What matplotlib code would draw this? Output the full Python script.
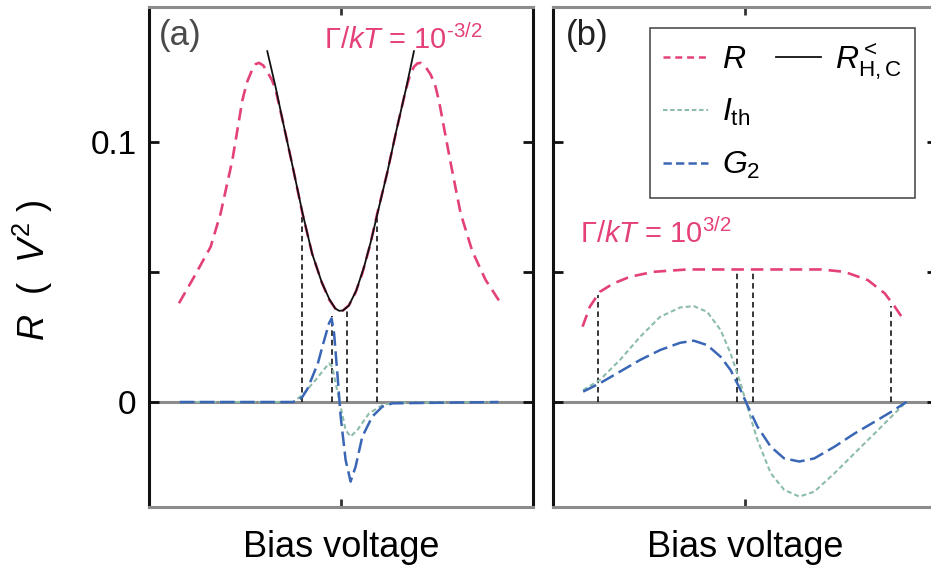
import matplotlib
matplotlib.use("Agg")
import matplotlib.pyplot as plt
from matplotlib.lines import Line2D

plt.rcParams['font.family'] = ['Liberation Sans', 'DejaVu Sans']
plt.rcParams['mathtext.fontset'] = 'custom'
plt.rcParams['mathtext.rm'] = 'Liberation Sans'
plt.rcParams['mathtext.it'] = 'Liberation Sans:italic'
plt.rcParams['mathtext.bf'] = 'Liberation Sans:bold'
plt.rcParams['lines.scale_dashes'] = False

# ---------------- data (bias voltage in arbitrary units, -1..1) ----------------
# Panel (a): Gamma/kT = 10^-3/2
a_R_x = [-0.844, -0.774, -0.679, -0.627, -0.566, -0.514, -0.49, -0.462, -0.445, -0.427, -0.405,
         -0.384, -0.36, -0.340, -0.30, -0.25, -0.201, -0.15, -0.10, -0.0625, -0.03, -0.0104,
         0.01, 0.042, 0.075, 0.111, 0.15, 0.189, 0.24, 0.29, 0.337, 0.36, 0.380, 0.398, 0.415,
         0.44, 0.467, 0.490, 0.510, 0.571, 0.623, 0.684, 0.753, 0.832]
a_R_y = [0.038, 0.047, 0.0597, 0.0726, 0.093, 0.116, 0.123, 0.128, 0.1300, 0.1305, 0.1295,
         0.127, 0.124, 0.120, 0.107, 0.090, 0.0726, 0.057, 0.046, 0.0395, 0.036, 0.0351,
         0.0352, 0.0373, 0.042, 0.0495, 0.060, 0.0726, 0.088, 0.105, 0.120, 0.126, 0.129, 0.1303, 0.1305,
         0.129, 0.126, 0.122, 0.116, 0.092, 0.0726, 0.058, 0.047, 0.038]

a_RHC_x = [-0.384, -0.34, -0.30, -0.25, -0.20, -0.15, -0.10, -0.06, -0.03, -0.01,
           0.01, 0.04, 0.08, 0.12, 0.16, 0.19, 0.24, 0.29, 0.34, 0.38]
a_RHC_y = [0.135, 0.121, 0.107, 0.090, 0.0726, 0.057, 0.046, 0.0395, 0.036, 0.0351,
           0.0352, 0.037, 0.043, 0.052, 0.063, 0.0726, 0.088, 0.105, 0.121, 0.135]

a_G2_x = [-0.84, -0.25, -0.225, -0.201, -0.175, -0.149, -0.12, -0.097, -0.0625, -0.049, -0.036,
          -0.019, -0.0017, 0.024, 0.050, 0.076, 0.111, 0.163, 0.215, 0.267, 0.82]
a_G2_y = [0.0, 0.0, 0.0005, 0.002, 0.0050, 0.0097, 0.0150, 0.0213, 0.0303, 0.0322, 0.0264,
          0.011, -0.0056, -0.0223, -0.0306, -0.0249, -0.0133, -0.0056, -0.0018, -0.0005, 0.0]

a_Ith_x = [-0.84, -0.25, -0.201, -0.132, -0.0625, -0.045, -0.028, -0.0017, 0.024, 0.050, 0.085,
           0.146, 0.215, 0.27, 0.82]
a_Ith_y = [0.0, 0.0, 0.0027, 0.0085, 0.0149, 0.0135, 0.0072, -0.0018, -0.0108, -0.0133, -0.0108,
           -0.0044, -0.0012, -0.0003, 0.0]

a_vline_x = [-0.205, -0.049, 0.033, 0.189]
a_vline_top = [0.0726, 0.033, 0.0355, 0.0726]

# Panel (b): Gamma/kT = 10^3/2
b_R_x = [-0.846, -0.808, -0.756, -0.686, -0.599, -0.476, -0.302, -0.127, 0.047, 0.222, 0.396,
         0.518, 0.640, 0.728, 0.780, 0.832]
b_R_y = [0.029, 0.0367, 0.0424, 0.0456, 0.0482, 0.0501, 0.051, 0.051, 0.051, 0.051, 0.051,
         0.0501, 0.0469, 0.0418, 0.0367, 0.031]

b_Ith_x = [-0.843, -0.756, -0.651, -0.546, -0.442, -0.337, -0.267, -0.197, -0.127, -0.075, -0.023,
           0.012, 0.065, 0.134, 0.204, 0.283, 0.361, 0.466, 0.571, 0.675, 0.763, 0.832]
b_Ith_y = [0.0046, 0.0085, 0.0162, 0.0251, 0.0328, 0.0364, 0.0369, 0.0347, 0.0277, 0.0187, 0.0071,
           -0.0018, -0.0146, -0.0274, -0.0338, -0.0364, -0.0345, -0.0274, -0.0197, -0.0121, -0.0056, -0.0005]

b_G2_x = [-0.843, -0.756, -0.651, -0.546, -0.442, -0.337, -0.267, -0.197, -0.127, -0.075, -0.023,
          0.012, 0.065, 0.134, 0.204, 0.283, 0.361, 0.466, 0.571, 0.675, 0.763, 0.841]
b_G2_y = [0.004, 0.0072, 0.0117, 0.0162, 0.020, 0.0228, 0.0236, 0.0219, 0.0174, 0.0123, 0.0046,
          -0.0012, -0.0095, -0.0172, -0.0217, -0.0229, -0.0217, -0.0172, -0.0121, -0.0076, -0.0037, 0.0]

b_vline_x = [-0.764, -0.040, 0.042, 0.759]
b_vline_top = [0.041, 0.050, 0.050, 0.037]

y_ticks = [0.0, 0.05, 0.1]
y_ticklabels = ['0', '', '0.1']
panel_labels = ['(a)', '(b)']
gamma_labels = [r'$\Gamma/kT$ = 10$^{\text{-3/2}}$', r'$\Gamma/kT$ = 10$^{3/2}$']
xlabel = 'Bias voltage'
ylabel = r'$R$  (  $V^2$ )'

# ---------------- styling ----------------
PINK = '#e4407a'
BLUE = '#3a66b6'
GREEN = '#8cbcaa'
GRAY = '#8c8c8c'

fig = plt.figure(figsize=(9.31, 5.67), dpi=100)
W, H = 931.0, 567.0
axA = fig.add_axes([149 / W, (H - 507) / H, 384 / W, 500 / H])
axB = fig.add_axes([553 / W, (H - 507) / H, 384 / W, 500 / H])

ylim = (-0.0404, 0.152)


def style(ax, show_labels):
    ax.set_xlim(-1, 1)
    ax.set_ylim(*ylim)
    ax.axhline(0, color=GRAY, lw=2.2, zorder=1)
    for s in ['top', 'bottom']:
        ax.spines[s].set_color(GRAY)
        ax.spines[s].set_linewidth(2.2)
    for s in ['left', 'right']:
        ax.spines[s].set_color('#111111')
        ax.spines[s].set_linewidth(2.2)
    ax.set_yticks(y_ticks)
    ax.set_yticklabels(y_ticklabels if show_labels else [])
    ax.set_xticks([0])
    ax.set_xticklabels([])
    ax.tick_params(axis='y', direction='in', left=True, right=True, length=7, width=2,
                   labelsize=24, pad=9, color='#111111')
    ax.tick_params(axis='x', direction='in', top=True, bottom=True, length=6, width=2,
                   color='#333333')
    ax.set_xlabel(xlabel, fontsize=26, labelpad=13)


def curves(ax, Rx, Ry, Ix, Iy, Gx, Gy, vx, vt):
    for x, t in zip(vx, vt):
        ax.plot([x, x], [0, t], color='black', lw=1.1, dashes=(4, 2.8), zorder=3)
    lR, = ax.plot(Rx, Ry, color=PINK, lw=1.9, dashes=(9, 5), zorder=4)
    lI, = ax.plot(Ix, Iy, color=GREEN, lw=1.5, dashes=(3.5, 2.2), zorder=4)
    lG, = ax.plot(Gx, Gy, color=BLUE, lw=1.8, dashes=(10.5, 4), zorder=5)
    return lR, lI, lG


style(axA, True)
style(axB, False)

curves(axA, a_R_x, a_R_y, a_Ith_x, a_Ith_y, a_G2_x, a_G2_y, a_vline_x, a_vline_top)
axA.plot(a_RHC_x, a_RHC_y, color='#111111', lw=1.3, zorder=6)
lR, lI, lG = curves(axB, b_R_x, b_R_y, b_Ith_x, b_Ith_y, b_G2_x, b_G2_y, b_vline_x, b_vline_top)

axA.set_ylabel(ylabel, fontsize=26)
axA.yaxis.set_label_coords(-0.245, 0.474)

axA.text(0.026, 0.975, panel_labels[0], transform=axA.transAxes, fontsize=25,
         color='#4a4a4a', va='top', ha='left')
axB.text(0.034, 0.975, panel_labels[1], transform=axB.transAxes, fontsize=25,
         color='#222222', va='top', ha='left')
axA.text(0.456, 0.965, gamma_labels[0], transform=axA.transAxes, fontsize=21,
         color=PINK, va='top', ha='left')
axB.text(0.07, 0.578, gamma_labels[1], transform=axB.transAxes, fontsize=21,
         color=PINK, va='top', ha='left')

# legend
hR = Line2D([], [], color=PINK, lw=1.8, dashes=(5, 3.5))
hI = Line2D([], [], color=GREEN, lw=1.5, dashes=(3.2, 2.0))
hG = Line2D([], [], color=BLUE, lw=1.8, dashes=(6, 3))
hH = Line2D([], [], color='#111111', lw=1.3)
blank = Line2D([], [], color='none')
leg = axB.legend([hR, hI, hG, hH, blank, blank],
                 [r'$R$', r'$I_{\rm th}$', r'$G_2$', r'$R^{<}_{\rm H,C}$', '', ''],
                 ncol=2, loc='upper left', bbox_to_anchor=(0.253, 0.958),
                 fontsize=23, frameon=True, fancybox=False, borderaxespad=0,
                 handlelength=1.4, handletextpad=0.45, columnspacing=0.5,
                 labelspacing=0.68, borderpad=0.4)
leg.get_frame().set_edgecolor('#222222')
leg.get_frame().set_linewidth(1.2)

fig.savefig('out.png', dpi=100)
